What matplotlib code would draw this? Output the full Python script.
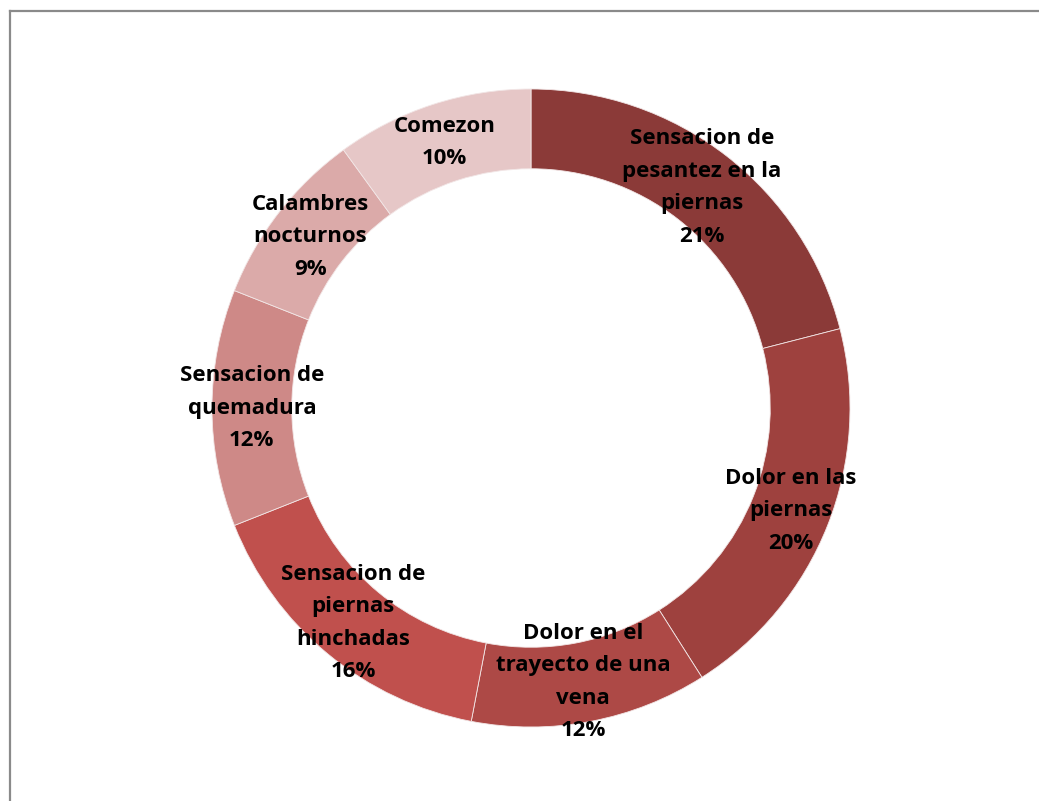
import numpy as np
import matplotlib.pyplot as plt
from matplotlib.lines import Line2D

# sintomas y porcentajes
sintomas = ['Sensacion de\npesantez en la\npiernas', 'Dolor en las\npiernas',
            'Dolor en el\ntrayecto de una\nvena', 'Sensacion de\npiernas\nhinchadas',
            'Sensacion de\nquemadura', 'Calambres\nnocturnos', 'Comezon']
porcentajes = [21, 20, 12, 16, 12, 9, 10]
colores = ['#8B3A38', '#9E413E', '#AD4946', '#C0504D', '#CE8987', '#DBAAA9', '#E6C7C7']

W, H = 1039, 801
fig = plt.figure(figsize=(W / 100, H / 100), dpi=100)

# marco gris del grafico (solo izquierda y arriba quedan dentro)
gris = '#8A8A8A'
fig.add_artist(Line2D([10 / W, 10 / W], [0, 790 / H], color=gris, lw=1.6))
fig.add_artist(Line2D([10 / W, 1], [790 / H, 790 / H], color=gris, lw=1.6))

cx, cy, r = 531, 408, 319
ax = fig.add_axes([(cx - r) / W, (H - cy - r) / H, 2 * r / W, 2 * r / H])
ancho = 0.25
ax.pie(porcentajes, colors=colores, startangle=90, counterclock=False,
       radius=1, wedgeprops=dict(width=ancho, edgecolor='#F2E6E6', linewidth=0.6))
ax.set_xlim(-1, 1)
ax.set_ylim(-1, 1)
ax.set_aspect('equal')
ax.axis('off')

# etiquetas en el centro del anillo
acum = np.cumsum([0] + porcentajes)
for i, (nombre, p) in enumerate(zip(sintomas, porcentajes)):
    medio = (acum[i] + acum[i + 1]) / 2
    ang = np.deg2rad(90 - medio / sum(porcentajes) * 360)
    rm = 1 - ancho / 2
    ax.text(rm * np.cos(ang), rm * np.sin(ang), f'{nombre}\n{p}%',
            ha='center', va='center', fontsize=16, fontweight='bold',
            family='Open Sans', linespacing=1.72, color='black')

fig.savefig('out.png', dpi=100)
